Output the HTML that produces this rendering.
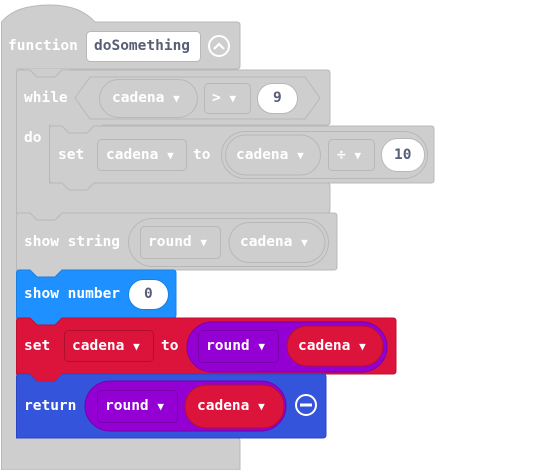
<!DOCTYPE html>
<html><head><meta charset="utf-8"><style>
body{margin:0;background:#fff}
svg text{font-family:"DejaVu Sans Mono","Liberation Mono",monospace;font-weight:bold;font-size:14.5px;fill:#fff;dominant-baseline:central}
svg tspan.a{font-size:11px}
</style></head><body>
<svg width="538" height="470" viewBox="0 0 538 470" xmlns="http://www.w3.org/2000/svg">
<!-- function block -->
<path d="M1.5,22 Q15,5 50,5 Q80,5 95,22 L237,22 Q240,22 240,25 L240,66 Q240,69 237,69 L17,69 L17,438 L237,438 Q240,438 240,441 L240,470 L1.5,470 Z" fill="#cecece" stroke="#b8b8b8"/>
<text x="8" y="46">function</text>
<rect x="86.5" y="31.5" width="114" height="30" rx="4" fill="#fff" stroke="#b8b8b8"/>
<text x="94" y="46" style="fill:#575e75">doSomething</text>
<circle cx="219" cy="46" r="10" fill="none" stroke="#fff" stroke-width="2"/>
<path d="M214,49 L219,44 L224,49" fill="none" stroke="#fff" stroke-width="2.2"/>

<!-- while -->
<rect x="24" y="69" width="46" height="10" fill="#cecece"/>
<path d="M16.5,73 Q16.5,70 19.5,70 L30,70 L37,77 L55,77 L62,70 L327,70 Q330,70 330,73 L330,122 Q330,125 327,125 L82,125 L75,132 L57,132 L50,125 L49.5,125 L49.5,183 L327,183 Q330,183 330,186 L330,210 Q330,213 327,213 L16.5,213 Z" fill="#cecece" stroke="#b8b8b8"/>
<text x="24" y="98">while</text>
<text x="24" y="138">do</text>
<polygon points="75,98 90,77 305,77 320,98 305,119 90,119" fill="#cecece" stroke="#b8b8b8"/>
<rect x="99.5" y="79.5" width="98" height="38" rx="19" fill="#cecece" stroke="#b8b8b8"/>
<text x="112" y="98">cadena <tspan class="a">▼</tspan></text>
<rect x="204.5" y="83.5" width="46" height="30" rx="4" fill="#cecece" stroke="#b8b8b8"/>
<text x="212" y="98">&gt; <tspan class="a">▼</tspan></text>
<rect x="257.5" y="83.5" width="40" height="30" rx="15" fill="#fff" stroke="#b8b8b8"/>
<text x="273" y="98" style="fill:#575e75">9</text>

<!-- set inner -->
<rect x="56" y="124" width="46" height="10" fill="#cecece"/>
<path d="M49.5,129 Q49.5,126 52.5,126 L62,126 L69,133 L87,133 L94,126 L431,126 Q434,126 434,129 L434,180 Q434,183 431,183 L94,183 L87,190 L69,190 L62,183 L52.5,183 Q49.5,183 49.5,180 Z" fill="#cecece" stroke="#b8b8b8"/>
<text x="58" y="155">set</text>
<rect x="97.5" y="139.5" width="89" height="31" rx="4" fill="#cecece" stroke="#b8b8b8"/>
<text x="106" y="155">cadena <tspan class="a">▼</tspan></text>
<text x="193" y="155">to</text>
<rect x="221.5" y="131.5" width="206" height="47" rx="23.5" fill="#cecece" stroke="#b8b8b8"/>
<rect x="225.5" y="135" width="95" height="40" rx="20" fill="#cecece" stroke="#b8b8b8"/>
<text x="236" y="155">cadena <tspan class="a">▼</tspan></text>
<rect x="328.5" y="139.5" width="46" height="31" rx="4" fill="#cecece" stroke="#b8b8b8"/>
<text x="337" y="155">÷ <tspan class="a">▼</tspan></text>
<rect x="381.5" y="138.5" width="43" height="33" rx="16" fill="#fff" stroke="#b8b8b8"/>
<text x="394" y="155" style="fill:#575e75">10</text>

<!-- show string -->
<rect x="24" y="212" width="46" height="10" fill="#cecece"/>
<path d="M16.5,216 Q16.5,213 19.5,213 L30,213 L37,220 L55,220 L62,213 L334,213 Q337,213 337,216 L337,267 Q337,270 334,270 L16.5,270 Z" fill="#cecece" stroke="#b8b8b8"/>
<text x="24" y="242">show string</text>
<rect x="128.5" y="218.5" width="200" height="48" rx="24" fill="#cecece" stroke="#b8b8b8"/>
<rect x="140.5" y="226.5" width="80" height="32" rx="4" fill="#cecece" stroke="#b8b8b8"/>
<text x="148" y="242">round <tspan class="a">▼</tspan></text>
<rect x="229" y="222.5" width="96" height="40" rx="20" fill="#cecece" stroke="#b8b8b8"/>
<text x="240" y="242">cadena <tspan class="a">▼</tspan></text>

<!-- show number -->
<rect x="24" y="269" width="46" height="10" fill="#cecece"/>
<path d="M16.5,273 Q16.5,270 19.5,270 L30,270 L37,277 L55,277 L62,270 L173,270 Q176,270 176,273 L176,315 Q176,318 173,318 L16.5,318 Z" fill="#1e90ff" stroke="#1a7fe0"/>
<text x="24" y="294">show number</text>
<rect x="128.5" y="279.5" width="40" height="30" rx="15" fill="#fff" stroke="#1a7fe0"/>
<text x="144" y="294" style="fill:#575e75">0</text>

<!-- set red -->
<rect x="24" y="317" width="46" height="10" fill="#1e90ff"/>
<path d="M16.5,321 Q16.5,318 19.5,318 L30,318 L37,325 L55,325 L62,318 L393,318 Q396,318 396,321 L396,371 Q396,374 393,374 L62,374 L55,381 L37,381 L30,374 L16.5,374 Z" fill="#dc143c" stroke="#c01030"/>
<text x="24" y="346">set</text>
<rect x="64.5" y="330.5" width="89" height="31" rx="4" fill="#dc143c" stroke="#b01030"/>
<text x="72" y="346">cadena <tspan class="a">▼</tspan></text>
<text x="161" y="346">to</text>
<rect x="187" y="322" width="200" height="50" rx="25" fill="#9400d3" stroke="#7600a9"/>
<rect x="198.5" y="330.5" width="80" height="32" rx="4" fill="#9400d3" stroke="#7600a9"/>
<text x="206" y="346">round <tspan class="a">▼</tspan></text>
<rect x="287" y="326" width="96" height="40" rx="20" fill="#dc143c" stroke="#b01030"/>
<text x="298" y="346">cadena <tspan class="a">▼</tspan></text>

<!-- return -->
<path d="M16.5,377 Q16.5,374 19.5,374 L30,374 L37,381 L55,381 L62,374 L323,374 Q326,374 326,377 L326,435 Q326,438 323,438 L16.5,438 Z" fill="#3455db" stroke="#2a45c0"/>
<path d="M29,373 L37,381 L55,381 L63,373 Z" fill="#dc143c"/>
<text x="24" y="406">return</text>
<rect x="85" y="381" width="201" height="50" rx="25" fill="#9400d3" stroke="#7600a9"/>
<rect x="97.5" y="390.5" width="80" height="32" rx="4" fill="#9400d3" stroke="#7600a9"/>
<text x="105" y="406">round <tspan class="a">▼</tspan></text>
<rect x="185" y="385" width="99" height="43" rx="21" fill="#dc143c" stroke="#b01030"/>
<text x="197" y="406">cadena <tspan class="a">▼</tspan></text>
<circle cx="306" cy="405" r="10" fill="none" stroke="#fff" stroke-width="2"/>
<line x1="300" y1="405" x2="312" y2="405" stroke="#fff" stroke-width="3"/>
</svg>
</body></html>
